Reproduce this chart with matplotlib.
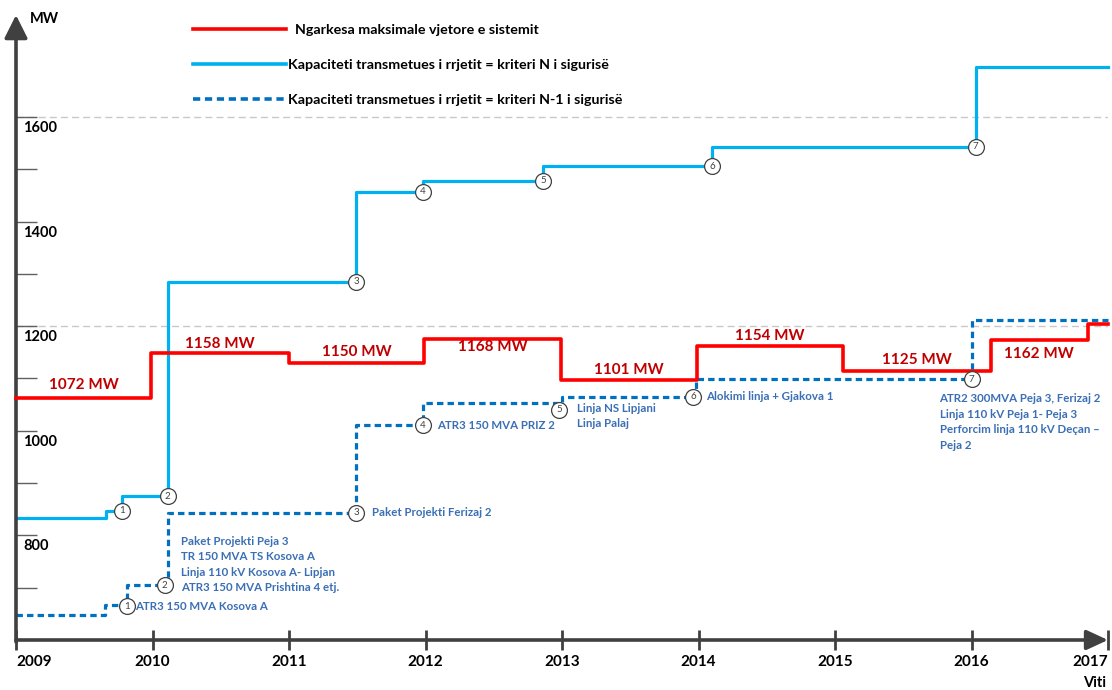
import matplotlib
matplotlib.use("Agg")
from matplotlib import pyplot as plt
from matplotlib.lines import Line2D

plt.rcParams['font.family'] = ['Lato', 'DejaVu Sans']

# ---------------------------------------------------------------
# data (year, MW)

# peak load of the system (red step line)
load_x = [2009, 2009.99, 2011.0, 2011.99, 2012.99, 2013.99, 2015.06, 2016.14, 2016.85, 2017.0]
load_mw = [1063, 1149, 1130, 1176, 1097, 1162, 1114, 1174, 1204, 1204]
load_labels = ['1072 MW', '1158 MW', '1150 MW', '1168 MW', '1101 MW', '1154 MW', '1125 MW', '1162 MW']
load_label_dy = [13, 9, 11, -8, 10, 10, 11, -14]   # px, above (+) / below (-) the step

# transmission capacity, N criterion
cap_n_x = [2009, 2009.66, 2009.78, 2010.11, 2011.49, 2011.98, 2012.86, 2014.10, 2016.03, 2017.0]
cap_n_mw = [833, 847, 875, 1285, 1457, 1478, 1506, 1543, 1696, 1696]
cap_n_mark_x = [2009.78, 2010.11, 2011.49, 2011.98, 2012.86, 2014.10, 2016.03]
cap_n_mark_mw = [847, 875, 1285, 1457, 1478, 1506, 1543]

# transmission capacity, N-1 criterion
cap_n1_x = [2009, 2009.65, 2009.81, 2010.11, 2011.49, 2011.98, 2013.0, 2013.98, 2016.0, 2017.0]
cap_n1_mw = [648, 667, 705, 843, 1011, 1053, 1065, 1099, 1212, 1212]
cap_n1_mark_x = [2009.81, 2010.09, 2011.49, 2011.98, 2012.98, 2013.96, 2016.0]
cap_n1_mark_mw = [665, 705, 843, 1011, 1040, 1065, 1099]

projects = ['ATR3 150 MVA Kosova A',
            'Paket Projekti Peja 3\nTR 150 MVA TS Kosova A\nLinja 110 kV Kosova A- Lipjan\nATR3 150 MVA Prishtina 4 etj.',
            'Paket Projekti Ferizaj 2',
            'ATR3 150 MVA PRIZ 2',
            'Linja NS Lipjani\nLinja Palaj',
            'Alokimi linja + Gjakova 1',
            'ATR2 300MVA Peja 3, Ferizaj 2\nLinja 110 kV Peja 1- Peja 3\nPerforcim linja 110 kV Deçan \u2013\nPeja 2']
# text offset from circle (px) and vertical alignment
proj_off = [(8, 0), (16, -8), (16, 0), (14, 0), (18, 7), (13, 0), (-32, -14)]
proj_va = ['center', 'bottom', 'center', 'center', 'top', 'center', 'top']

years = list(range(2009, 2018))
mw_ticks = list(range(700, 1700, 100))
mw_labels = [800, 1000, 1200, 1400, 1600]

# ---------------------------------------------------------------
dark = '#404040'
red = '#FF0000'
cyan = '#00B0F0'
navy = '#0070C0'
txt_blue = '#3A6FB5'

fig = plt.figure(figsize=(11.12, 6.9), dpi=100)
ax = fig.add_axes([16/1112, 50/690, 1092/1112, 625/690])
ax.set_xlim(2009, 2017)
ax.set_ylim(600, 1795)
for s in ax.spines.values():
    s.set_visible(False)

# dashed guide lines
for v in [1200, 1600]:
    ax.axhline(v, color='#C8C8C8', lw=1, dashes=(5, 3), zorder=0)

# axes with arrows
ax.annotate('', xy=(1, 0), xytext=(0, 0), xycoords='axes fraction',
            arrowprops=dict(arrowstyle='-|>,head_length=0.65,head_width=0.3', lw=2.6,
                            color=dark, shrinkA=0, shrinkB=0, mutation_scale=20))
ax.annotate('', xy=(0, 1), xytext=(0, -0.003), xycoords='axes fraction',
            arrowprops=dict(arrowstyle='-|>,head_length=0.7,head_width=0.35', lw=2.6,
                            color=dark, shrinkA=0, shrinkB=0, mutation_scale=20))

ax.set_xticks(years)
ax.set_xticklabels([str(y) for y in years], fontweight='bold', fontsize=11)
ax.tick_params(axis='x', direction='inout', length=14, width=2, color=dark, pad=4)
tl = ax.get_xticklabels()
tl[0].set_ha('left')
tl[-1].set_ha('right')
ax.set_yticks(mw_ticks)
ax.set_yticklabels([])
ax.tick_params(axis='y', direction='in', length=15, width=1, color='#606060')

for v in mw_labels:
    ax.annotate(str(v), xy=(0, v), xycoords=('axes fraction', 'data'),
                xytext=(7, -11), textcoords='offset pixels', ha='left', va='center',
                fontsize=10.5, fontweight='bold')
fig.text(30/1112, 1 - 19/690, 'MW', ha='left', va='center', fontsize=10.5, fontweight='bold')
fig.text(1106/1112, 1 - 683/690, 'Viti', ha='right', va='center', fontsize=10.5, fontweight='bold')

# series
ax.step(load_x, load_mw, where='post', color=red, lw=2.6, zorder=3, clip_on=False)
ax.step(cap_n_x, cap_n_mw, where='post', color=cyan, lw=2.3, zorder=2, clip_on=False)
ax.step(cap_n1_x, cap_n1_mw, where='post', color=navy, lw=2.3, ls=(0, (2, 1.3)),
        zorder=2, clip_on=False)

# peak load labels in the middle of each step
for i, lab in enumerate(load_labels):
    xm = (load_x[i] + load_x[i + 1]) / 2
    ax.annotate(lab, xy=(xm, load_mw[i]), xytext=(0, load_label_dy[i]),
                textcoords='offset pixels', ha='center', va='center',
                fontsize=11, fontweight='bold', color='#C00000', zorder=5)

# numbered circles
for xs, ys in [(cap_n_mark_x, cap_n_mark_mw), (cap_n1_mark_x, cap_n1_mark_mw)]:
    ax.scatter(xs, ys, s=130, facecolor='white', edgecolor=dark, lw=0.9, zorder=6, clip_on=False)
    for k, (xx, yy) in enumerate(zip(xs, ys)):
        ax.text(xx, yy, str(k + 1), ha='center', va='center', fontsize=7, color=dark, zorder=7)

# project descriptions next to N-1 steps
for k, lab in enumerate(projects):
    ax.annotate(lab, xy=(cap_n1_mark_x[k], cap_n1_mark_mw[k]), xytext=proj_off[k],
                textcoords='offset pixels', ha='left', va=proj_va[k],
                fontsize=8.3, fontweight='bold', color=txt_blue, linespacing=1.5, zorder=5)

# legend
handles = [Line2D([], [], color=red, lw=2.6),
           Line2D([], [], color=cyan, lw=2.6),
           Line2D([], [], color=navy, lw=2.6, ls=(0, (2, 1.3)))]
names = ['  Ngarkesa maksimale vjetore e sistemit',
         'Kapaciteti transmetues i rrjetit = kriteri N i sigurisë',
         'Kapaciteti transmetues i rrjetit = kriteri N-1 i sigurisë']
leg = fig.legend(handles, names, loc='upper left', bbox_to_anchor=(193/1112, 1 - 24/690),
                 frameon=False, handlelength=6.5, handletextpad=0.15, labelspacing=1.62,
                 borderpad=0, borderaxespad=0, prop=dict(weight='bold', size=10.3))

fig.savefig('out.png', dpi=100)
